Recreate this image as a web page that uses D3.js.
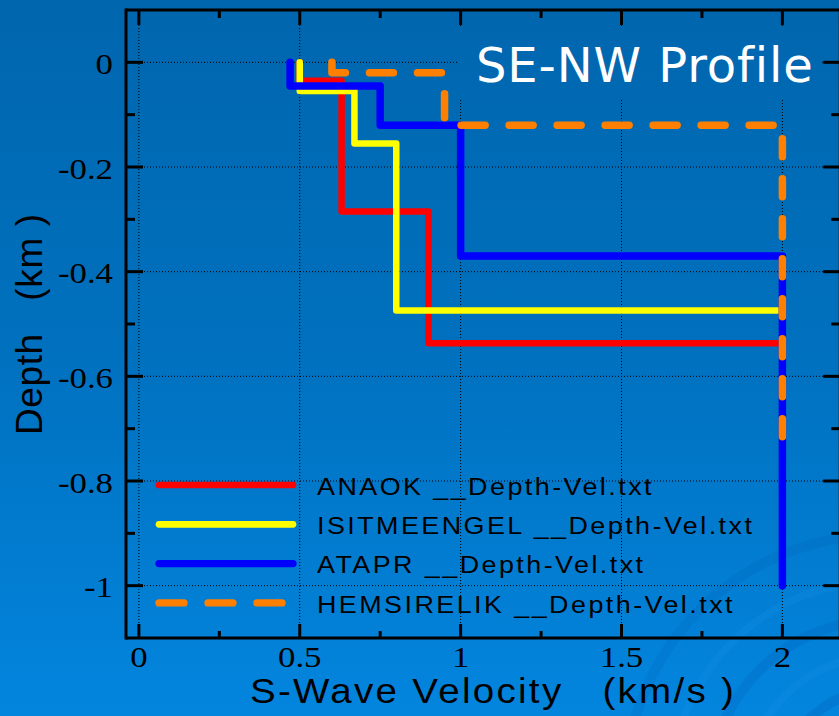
<!DOCTYPE html>
<html><head><meta charset="utf-8">
<script src="https://cdn.jsdelivr.net/npm/d3@7/dist/d3.min.js"></script>
<style>html,body{margin:0;padding:0;overflow:hidden;background:#0070c0}svg{display:block}text{white-space:pre}</style>
</head><body>
<script>
// ---- data ----
const seriesNames = ["ANAOK __Depth-Vel.txt","ISITMEENGEL __Depth-Vel.txt","ATAPR __Depth-Vel.txt","HEMSIRELIK __Depth-Vel.txt"];
const seriesColors = ["#ff0000","#ffff00","#0000ff","#ff8000"];
const anaokVel   = [0.5, 0.5, 0.63, 0.63, 0.9, 0.9, 2];
const anaokDepth = [0, -0.035, -0.035, -0.285, -0.285, -0.537, -0.537];
const isitVel    = [0.5, 0.5, 0.67, 0.67, 0.8, 0.8, 2];
const isitDepth  = [0, -0.055, -0.055, -0.155, -0.155, -0.474, -0.474];
const atapVel    = [0.47, 0.47, 0.75, 0.75, 1.0, 1.0, 2, 2];
const atapDepth  = [0, -0.045, -0.045, -0.12, -0.12, -0.37, -0.37, -1.0];
const hemsVel    = [0.6, 0.6, 0.95, 0.95, 2, 2];
const hemsDepth  = [0, -0.02, -0.02, -0.12, -0.12, -0.73];
const xTickLabels = ["0","0.5","1","1.5","2"];
const xTicks = [0,0.5,1,1.5,2];
const xMinor = [0.25,0.75,1.25,1.75];
const yTickLabels = ["0","-0.2","-0.4","-0.6","-0.8","-1"];
const yTicks = [0,-0.2,-0.4,-0.6,-0.8,-1];
const yMinor = [-0.1,-0.3,-0.5,-0.7,-0.9];
const titleText = "SE-NW Profile";
const xTitle = "S-Wave Velocity   (km/s )";
const yTitle = "Depth   (km )";

const W = 839, H = 716;
const svg = d3.select("body").append("svg").attr("width", W).attr("height", H);
const defs = svg.append("defs");
const grad = defs.append("linearGradient").attr("id","bg").attr("gradientUnits","userSpaceOnUse")
  .attr("x1",0).attr("y1",0).attr("x2",0).attr("y2",H);
grad.append("stop").attr("offset","0%").attr("stop-color","#0066ae");
grad.append("stop").attr("offset","50%").attr("stop-color","#0071bf");
grad.append("stop").attr("offset","100%").attr("stop-color","#0385de");
svg.append("rect").attr("width",W).attr("height",H).attr("fill","url(#bg)");

// faint swirl decoration bottom-right
const deco = svg.append("g").attr("fill","none");
[[95,"rgba(0,70,160,0.18)",10],[130,"rgba(60,170,255,0.10)",8],[165,"rgba(0,70,160,0.14)",10],[205,"rgba(60,170,255,0.10)",8],[250,"rgba(0,70,160,0.10)",10]].forEach(([r,c,w])=>{
  deco.append("path").attr("d", d3.arc()({innerRadius:r, outerRadius:r+w, startAngle:-Math.PI*0.5, endAngle:0}))
    .attr("transform","translate(880,790)").attr("fill",c);
});

// scales
const x = d3.scaleLinear().domain([-0.04, 2.18]).range([126, 840.3]);
const y = d3.scaleLinear().domain([0.1, -1.1]).range([10, 638]);
const [x0,x1] = x.range(), [y0,y1] = y.range();

// grid
const grid = svg.append("g").attr("stroke","#000").attr("stroke-width",1).attr("stroke-dasharray","1,2");
xTicks.forEach(v=>grid.append("line").attr("x1",x(v)).attr("x2",x(v)).attr("y1",y0).attr("y2",y1));
yTicks.forEach(v=>grid.append("line").attr("y1",y(v)).attr("y2",y(v)).attr("x1",x0).attr("x2",x1));

// title box covering grid
svg.append("rect").attr("x",457).attr("y",26).attr("width",365).attr("height",74).attr("fill","url(#bg)");
svg.append("text").attr("x",476).attr("y",81.7).attr("fill","#fff").attr("letter-spacing",0.9)
  .attr("font-family","'DejaVu Sans', Verdana, sans-serif").attr("font-size",48).text(titleText);

// data lines
const line = d3.line().x(d=>x(d[0])).y(d=>y(d[1]));
const series = [
  {v:anaokVel,d:anaokDepth,w:6.5},
  {v:isitVel,d:isitDepth,w:6.5},
  {v:atapVel,d:atapDepth,w:7.5},
  {v:hemsVel,d:hemsDepth,w:7.5,dash:"24,24"}
];
series.forEach((s,i)=>{
  const pts = s.v.map((vv,j)=>[vv,s.d[j]]);
  const style = p=>p.attr("fill","none").attr("stroke",seriesColors[i])
    .attr("stroke-width",s.w).attr("stroke-linecap","round").attr("stroke-linejoin","round");
  if (!s.dash) { svg.append("path").attr("d",line(pts)).call(style); return; }
  const head = pts.slice(0, pts.length-1), tail = pts.slice(pts.length-2);
  svg.append("path").attr("d",line(head)).call(style).attr("stroke-dasharray",s.dash);
  svg.append("path").attr("d",line(tail)).call(style).attr("stroke-dasharray","18,22").attr("stroke-dashoffset",26.5);
});

// frame + ticks
const frame = svg.append("g").attr("stroke","#000").attr("stroke-width",3).attr("fill","none");
frame.append("line").attr("x1",x0).attr("x2",x0).attr("y1",y0-1.5).attr("y2",y1+1.5);
frame.append("line").attr("x1",x1).attr("x2",x1).attr("y1",y0-1.5).attr("y2",y1+1.5);
frame.append("line").attr("x1",x0).attr("x2",x1).attr("y1",y0).attr("y2",y0);
frame.append("line").attr("x1",x0).attr("x2",x1).attr("y1",y1).attr("y2",y1);
const MJ = 15, MN = 8;
xTicks.forEach(v=>{frame.append("line").attr("x1",x(v)).attr("x2",x(v)).attr("y1",y1).attr("y2",y1-MJ+1);
  frame.append("line").attr("x1",x(v)).attr("x2",x(v)).attr("y1",y0).attr("y2",y0+MJ);});
xMinor.forEach(v=>{frame.append("line").attr("x1",x(v)).attr("x2",x(v)).attr("y1",y1).attr("y2",y1-MN+1);
  frame.append("line").attr("x1",x(v)).attr("x2",x(v)).attr("y1",y0).attr("y2",y0+MN);});
yTicks.forEach(v=>{frame.append("line").attr("y1",y(v)).attr("y2",y(v)).attr("x1",x0).attr("x2",x0+MJ+2);
  frame.append("line").attr("y1",y(v)).attr("y2",y(v)).attr("x1",x1).attr("x2",x1-MJ-2);});
yMinor.forEach(v=>{frame.append("line").attr("y1",y(v)).attr("y2",y(v)).attr("x1",x0).attr("x2",x0+MN+1);
  frame.append("line").attr("y1",y(v)).attr("y2",y(v)).attr("x1",x1).attr("x2",x1-MN-1);});

// tick labels (serif, stretched)
const serif = "'Liberation Serif','Times New Roman',serif";
xTicks.forEach((v,i)=>{
  svg.append("g").attr("transform",`translate(${x(v)},666.7) scale(1.2,1)`)
    .append("text").attr("text-anchor","middle").attr("font-family",serif).attr("font-size",29).attr("fill","#000").text(xTickLabels[i]);
});
yTicks.forEach((v,i)=>{
  svg.append("g").attr("transform",`translate(113,${y(v)+11.5}) scale(1.2,1)`)
    .append("text").attr("text-anchor","end").attr("font-family",serif).attr("font-size",29).attr("fill","#000").text(yTickLabels[i]);
});

// axis titles
const sans = "'Liberation Sans', Arial, sans-serif";
svg.append("g").attr("transform","translate(250,703.3) scale(1.1,1)")
  .append("text").attr("font-family",sans).attr("font-size",35)
  .attr("letter-spacing",2.1).attr("fill","#000").text(xTitle);
svg.append("text").attr("transform","translate(41.7,435) rotate(-90)").attr("font-family",sans).attr("font-size",37)
  .attr("letter-spacing",0.6).attr("fill","#000").text(yTitle);

// legend
const lg = svg.append("g");
seriesNames.forEach((n,i)=>{
  const ly = 485 + i*39.3;
  lg.append("line").attr("x1",159).attr("x2",i===3?290:293).attr("y1",ly).attr("y2",ly)
    .attr("stroke",seriesColors[i]).attr("stroke-width",i>=2?7.3:6.7).attr("stroke-linecap","round")
    .attr("stroke-dasharray",i===3?"25,24":null);
  lg.append("g").attr("transform",`translate(317,${ly+9.7}) scale(1.12,1)`)
    .append("text").attr("font-family",sans).attr("font-size",24)
    .attr("letter-spacing",2.2).attr("fill","#000").text(n);
});
</script>
</body></html>
